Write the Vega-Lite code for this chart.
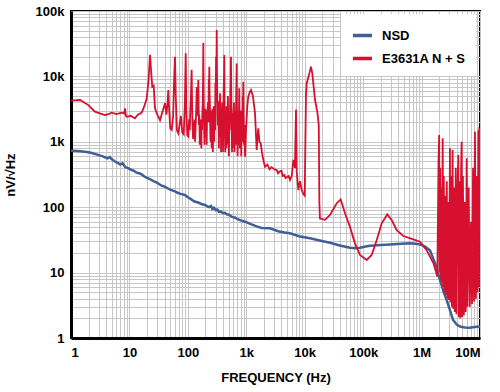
{
  "$schema": "https://vega.github.io/schema/vega-lite/v6.json",
  "width": 409,
  "height": 327,
  "autosize": "none",
  "padding": {"left": 71, "top": 11, "right": 20, "bottom": 54},
  "background": "white",
  "datasets": {
    "nsd": [
      {"f":1,"v":731},{"f":1.3,"v":725},{"f":1.74,"v":706},{"f":2.2,"v":680},{"f":2.9,"v":630},{"f":3.5,"v":600},{"f":4.2,"v":560},{"f":4.6,"v":585},{"f":5.0,"v":540},{"f":5.66,"v":500},{"f":6.3,"v":475},{"f":7,"v":450},{"f":7.6,"v":470},{"f":8.5,"v":410},{"f":9.5,"v":395},{"f":10.9,"v":370},{"f":12,"v":360},{"f":13,"v":340},{"f":14.5,"v":330},{"f":16,"v":320},{"f":18,"v":295},{"f":20,"v":280},{"f":22,"v":272},{"f":24,"v":260},{"f":27,"v":245},{"f":30,"v":235},{"f":35,"v":215},{"f":40.6,"v":205},{"f":45,"v":195},{"f":50,"v":185},{"f":60,"v":175},{"f":68,"v":165},{"f":75,"v":160},{"f":89,"v":154},{"f":100,"v":142},{"f":110,"v":135},{"f":120,"v":128},{"f":130,"v":122},{"f":150,"v":118},{"f":170,"v":112},{"f":196,"v":108},{"f":215,"v":103},{"f":230,"v":100},{"f":250,"v":104},{"f":262,"v":94},{"f":280,"v":98},{"f":300,"v":90},{"f":320,"v":92},{"f":340,"v":85},{"f":370,"v":86},{"f":400,"v":81},{"f":432,"v":82},{"f":470,"v":77},{"f":500,"v":77},{"f":560,"v":72},{"f":600,"v":70},{"f":650,"v":69},{"f":700,"v":66},{"f":800,"v":63},{"f":950,"v":60},{"f":1200,"v":55},{"f":1500,"v":51},{"f":1836,"v":48},{"f":2546,"v":47.6},{"f":3500,"v":43},{"f":4500,"v":41},{"f":5600,"v":40},{"f":8000,"v":36},{"f":12300,"v":33.5},{"f":18000,"v":31},{"f":27100,"v":28.6},{"f":40000,"v":26},{"f":59500,"v":24},{"f":75000,"v":23.6},{"f":88300,"v":24},{"f":110000,"v":25},{"f":131000,"v":25.8},{"f":200000,"v":26.5},{"f":288000,"v":27},{"f":450000,"v":27.5},{"f":632000,"v":28},{"f":800000,"v":27.5},{"f":940000,"v":27},{"f":1150000,"v":25},{"f":1390000,"v":22},{"f":1700000,"v":14},{"f":2070000,"v":7.7},{"f":2400000,"v":5},{"f":2690000,"v":3.8},{"f":3050000,"v":2.7},{"f":3450000,"v":1.9},{"f":4000000,"v":1.6},{"f":4550000,"v":1.5},{"f":5500000,"v":1.45},{"f":6740000,"v":1.44},{"f":8000000,"v":1.47},{"f":10000000,"v":1.5}
    ],
    "ens": [
      {"f":1,"v":4250},{"f":1.43,"v":4360},{"f":1.98,"v":3640},{"f":2.57,"v":2890},{"f":3.2,"v":2700},{"f":3.82,"v":2570},{"f":4.4,"v":2650},{"f":4.97,"v":2790},{"f":6,"v":2650},{"f":7.38,"v":2790},{"f":8.1,"v":2700},{"f":8.4,"v":3240},{"f":8.7,"v":2500},{"f":8.98,"v":2410},{"f":10.5,"v":2500},{"f":12.4,"v":2290},{"f":14,"v":2600},{"f":16.2,"v":2790},{"f":18,"v":3500},{"f":19.8,"v":4620},{"f":21.3,"v":9000},{"f":22.5,"v":21300},{"f":23.5,"v":12000},{"f":24.6,"v":6940},{"f":26,"v":7200},{"f":27.4,"v":3240},{"f":30,"v":2600},{"f":33.4,"v":2140},{"f":36,"v":2700},{"f":40.6,"v":3900},{"f":43,"v":2600},{"f":45,"v":4000},{"f":46.3,"v":6200},{"f":48,"v":3000},{"f":50,"v":1600},{"f":52.9,"v":1520},{"f":56,"v":2500},{"f":58,"v":8000},{"f":60.2,"v":20000},{"f":62,"v":5000},{"f":65,"v":1500},{"f":68.6,"v":1350},{"f":72,"v":1800},{"f":76,"v":2500},{"f":80,"v":1400},{"f":85,"v":1300},{"f":89,"v":4000},{"f":91.9,"v":22500},{"f":94,"v":3000},{"f":98,"v":1250},
      {"f":102,"v":1200},{"f":105,"v":2200},{"f":108,"v":1500},{"f":110,"v":3000},{"f":113,"v":5000},{"f":116,"v":12600},{"f":118,"v":4000},{"f":119,"v":2500},{"f":121,"v":1600},{"f":123,"v":1100},{"f":125,"v":2000},{"f":128,"v":1400},{"f":130,"v":2200},{"f":133,"v":1000},{"f":136,"v":1800},{"f":138,"v":2500},{"f":140,"v":4000},{"f":142,"v":6900},{"f":144,"v":3000},{"f":146,"v":2500},{"f":148,"v":4500},{"f":151,"v":8800},{"f":153,"v":3500},{"f":155,"v":1800},{"f":157,"v":2600},{"f":160,"v":900},{"f":162,"v":1900},{"f":165,"v":1100},{"f":167,"v":2200},{"f":170,"v":800},{"f":172,"v":1700},{"f":175,"v":1500},{"f":177,"v":2800},{"f":180,"v":4000},{"f":182,"v":9000},{"f":184,"v":32700},{"f":186,"v":6000},{"f":188,"v":3000},{"f":190,"v":1500},{"f":193,"v":900},{"f":195,"v":2200},{"f":198,"v":1200},{"f":200,"v":3200},{"f":203,"v":2500},{"f":206,"v":1200},{"f":208,"v":3000},{"f":210,"v":900},{"f":213,"v":2600},{"f":216,"v":2000},{"f":219,"v":3500},{"f":222,"v":4000},{"f":225,"v":2000},{"f":228,"v":9000},{"f":230,"v":5000},{"f":233,"v":14100},{"f":235,"v":6000},{"f":238,"v":4000},{"f":241,"v":1800},{"f":244,"v":1000},{"f":247,"v":3000},{"f":250,"v":2600},{"f":253,"v":1500},{"f":256,"v":800},{"f":259,"v":2400},{"f":262,"v":1500},{"f":265,"v":3200},{"f":268,"v":700},{"f":271,"v":1800},{"f":275,"v":2000},{"f":278,"v":3500},{"f":282,"v":1000},{"f":286,"v":2200},{"f":290,"v":3000},{"f":293,"v":1500},{"f":296,"v":8000},{"f":300,"v":4000},{"f":304,"v":20000},{"f":308,"v":9000},{"f":312,"v":51000},{"f":315,"v":12000},{"f":318,"v":6000},{"f":321,"v":2500},{"f":325,"v":1800},{"f":328,"v":4200},{"f":332,"v":3500},{"f":336,"v":1500},{"f":340,"v":800},{"f":344,"v":3000},{"f":348,"v":2500},{"f":351,"v":1200},{"f":355,"v":5500},{"f":358,"v":2500},{"f":362,"v":1200},{"f":366,"v":3000},{"f":370,"v":700},{"f":374,"v":1800},{"f":378,"v":2500},{"f":381,"v":1300},{"f":385,"v":4000},{"f":388,"v":2000},{"f":392,"v":900},{"f":396,"v":2300},{"f":400,"v":700},{"f":405,"v":3000},{"f":410,"v":6000},{"f":415,"v":9000},{"f":420,"v":21300},{"f":424,"v":5000},{"f":428,"v":2500},{"f":432,"v":1200},{"f":436,"v":700},{"f":440,"v":2200},{"f":445,"v":3000},{"f":450,"v":1400},{"f":455,"v":800},{"f":460,"v":3500},{"f":465,"v":2000},{"f":470,"v":1200},{"f":475,"v":900},{"f":480,"v":2500},{"f":485,"v":5000},{"f":488,"v":3000},{"f":492,"v":2100},{"f":498,"v":1200},{"f":505,"v":600},{"f":512,"v":2500},{"f":520,"v":1500},{"f":527,"v":3000},{"f":535,"v":6000},{"f":541,"v":9000},{"f":547,"v":20000},{"f":552,"v":6000},{"f":558,"v":3000},{"f":564,"v":1400},{"f":570,"v":700},{"f":577,"v":2800},{"f":585,"v":2500},{"f":592,"v":1100},{"f":600,"v":800},{"f":607,"v":3000},{"f":615,"v":4000},{"f":622,"v":1500},{"f":630,"v":700},{"f":637,"v":2200},{"f":645,"v":3000},{"f":652,"v":1200},{"f":660,"v":900},{"f":666,"v":2500},{"f":672,"v":5000},{"f":679,"v":8000},{"f":685,"v":15800},{"f":691,"v":4000},{"f":698,"v":2000},{"f":704,"v":1200},{"f":710,"v":600},{"f":720,"v":1500},{"f":730,"v":2000},{"f":737,"v":3000},{"f":745,"v":900},{"f":752,"v":3500},{"f":759,"v":6600},{"f":767,"v":2000},{"f":775,"v":800},{"f":787,"v":2000},{"f":800,"v":1500},{"f":810,"v":3000},{"f":820,"v":600},{"f":835,"v":1800},{"f":850,"v":2500},{"f":860,"v":1000},{"f":870,"v":5000},{"f":880,"v":3000},{"f":889,"v":8300},{"f":900,"v":2500},{"f":915,"v":900},{"f":930,"v":1800},{"f":950,"v":590},{"f":990,"v":1500},{"f":1040,"v":3500},{"f":1082,"v":4900},{"f":1150,"v":5800},{"f":1204,"v":6200},{"f":1300,"v":5000},{"f":1410,"v":2740},{"f":1470,"v":1200},{"f":1507,"v":750},{"f":1560,"v":1200},{"f":1605,"v":1600},{"f":1680,"v":1000},{"f":1765,"v":950},{"f":1850,"v":700},{"f":1955,"v":530},{"f":2090,"v":415},{"f":2300,"v":450},{"f":2500,"v":380},{"f":2700,"v":410},{"f":3000,"v":380},{"f":3313,"v":370},{"f":3500,"v":330},{"f":3700,"v":350},{"f":4000,"v":360},{"f":4200,"v":300},{"f":4500,"v":310},{"f":4700,"v":280},{"f":5000,"v":290},{"f":5300,"v":300},{"f":5596,"v":260},{"f":6000,"v":300},{"f":6378,"v":530},{"f":6800,"v":400},{"f":7096,"v":3090},{"f":7300,"v":350},{"f":7766,"v":183},{"f":8300,"v":250},{"f":8875,"v":183},{"f":9456,"v":160},{"f":10000,"v":150},{"f":10500,"v":5000},{"f":10800,"v":7800},{"f":11500,"v":9500},{"f":12800,"v":14100},{"f":13500,"v":11000},{"f":15000,"v":4360},{"f":16500,"v":2800},{"f":17400,"v":1800},{"f":17800,"v":120},{"f":18200,"v":67},{"f":22200,"v":64},{"f":27100,"v":76},{"f":35300,"v":115},{"f":41300,"v":132},{"f":48900,"v":81},{"f":59500,"v":50},{"f":72500,"v":28},{"f":88300,"v":18.6},{"f":115000,"v":15.6},{"f":140000,"v":18.6},{"f":171000,"v":31.5},{"f":208000,"v":56.7},{"f":259000,"v":78},{"f":308000,"v":63.5},{"f":375000,"v":44.7},{"f":487000,"v":36.3},{"f":722000,"v":32.3},{"f":940000,"v":29.6},{"f":1220000,"v":22},{"f":1590000,"v":14},{"f":1860000,"v":8.7},
      {"f":1950000,"v":500},{"f":2000000,"v":1270},{"f":2030000,"v":10},{"f":2080000,"v":400},{"f":2120000,"v":8},{"f":2180000,"v":200},{"f":2220000,"v":7},{"f":2300000,"v":1130},{"f":2340000,"v":6},{"f":2400000,"v":300},{"f":2460000,"v":5},{"f":2550000,"v":150},{"f":2620000,"v":4.5},{"f":2700000,"v":250},{"f":2780000,"v":4},{"f":2850000,"v":120},{"f":2950000,"v":3.8},{"f":3060000,"v":800},{"f":3120000,"v":3.5},{"f":3200000,"v":300},{"f":3300000,"v":3},{"f":3400000,"v":750},{"f":3480000,"v":2.8},{"f":3600000,"v":200},{"f":3700000,"v":2.5},{"f":3850000,"v":400},{"f":3950000,"v":2.3},{"f":4100000,"v":150},{"f":4250000,"v":630},{"f":4350000,"v":2.1},{"f":4500000,"v":250},{"f":4600000,"v":2},{"f":4750000,"v":400},{"f":4860000,"v":1000},{"f":4950000,"v":2.1},{"f":5100000,"v":300},{"f":5300000,"v":2.2},{"f":5500000,"v":120},{"f":5700000,"v":2.5},{"f":5920000,"v":560},{"f":6100000,"v":3},{"f":6400000,"v":200},{"f":6700000,"v":3},{"f":7000000,"v":60},{"f":7300000,"v":3.3},{"f":7600000,"v":400},{"f":7900000,"v":3.6},{"f":8200000,"v":1430},{"f":8500000,"v":4},{"f":8800000,"v":300},{"f":9100000,"v":5},{"f":9400000,"v":1500},{"f":9600000,"v":6},{"f":9720000,"v":1550},{"f":10000000,"v":1500}
    ]
  },
  "layer": [
    {
      "data": {"name": "nsd"},
      "transform": [{"calculate": "'NSD'", "as": "s"}],
      "mark": {"type": "line", "strokeWidth": 2.5, "clip": true},
      "encoding": {
        "x": {"field": "f", "type": "quantitative"},
        "y": {"field": "v", "type": "quantitative"},
        "color": {"field": "s", "type": "nominal"}
      }
    },
    {
      "data": {"name": "ens"},
      "transform": [{"calculate": "'E3631A N + S'", "as": "s"}],
      "mark": {"type": "line", "strokeWidth": 1.8, "clip": true},
      "encoding": {
        "x": {"field": "f", "type": "quantitative"},
        "y": {"field": "v", "type": "quantitative"},
        "color": {"field": "s", "type": "nominal"}
      }
    }
  ],
  "encoding": {
    "x": {
      "field": "f", "type": "quantitative",
      "scale": {"type": "log", "domain": [1, 10000000], "nice": false},
      "axis": {
        "title": "FREQUENCY (Hz)",
        "values": [1,2,3,4,5,6,7,8,9,10,20,30,40,50,60,70,80,90,100,200,300,400,500,600,700,800,900,1000,2000,3000,4000,5000,6000,7000,8000,9000,10000,20000,30000,40000,50000,60000,70000,80000,90000,100000,200000,300000,400000,500000,600000,700000,800000,900000,1000000,2000000,3000000,4000000,5000000,6000000,7000000,8000000,9000000,10000000],
        "labelExpr": "indexof([1,10,100,1000,10000,100000,1000000,10000000], datum.value) < 0 ? '' : datum.value >= 1000000 ? (datum.value/1000000) + 'M' : datum.value >= 1000 ? (datum.value/1000) + 'k' : '' + datum.value",
        "labelOverlap": false,
        "labelPadding": 8,
        "titlePadding": 12
      }
    },
    "y": {
      "field": "v", "type": "quantitative",
      "scale": {"type": "log", "domain": [1, 100000], "nice": false},
      "axis": {
        "title": "nV/√Hz",
        "values": [1,2,3,4,5,6,7,8,9,10,20,30,40,50,60,70,80,90,100,200,300,400,500,600,700,800,900,1000,2000,3000,4000,5000,6000,7000,8000,9000,10000,20000,30000,40000,50000,60000,70000,80000,90000,100000],
        "labelExpr": "indexof([1,10,100,1000,10000,100000], datum.value) < 0 ? '' : datum.value >= 1000 ? (datum.value/1000) + 'k' : '' + datum.value",
        "labelOverlap": false,
        "labelPadding": 7,
        "titlePadding": 18
      }
    },
    "color": {
      "field": "s", "type": "nominal",
      "scale": {"domain": ["NSD", "E3631A N + S"], "range": ["#3f5f95", "#d7102f"]},
      "legend": {
        "title": null,
        "orient": "none",
        "legendX": 270,
        "legendY": 3,
        "fillColor": "white",
        "padding": 10,
        "symbolType": "stroke",
        "symbolStrokeWidth": 3.5,
        "symbolSize": 361,
        "labelFont": "Liberation Sans",
        "labelFontWeight": "bold",
        "labelFontSize": 13,
        "labelColor": "black",
        "rowPadding": 4,
        "labelOffset": 8
      }
    }
  },
  "config": {
    "view": {"stroke": "black", "strokeWidth": 2},
    "axis": {
      "grid": true,
      "gridColor": "#c6c6c6",
      "gridWidth": 1,
      "ticks": false,
      "domain": true,
      "domainColor": "black",
      "domainWidth": 3,
      "labelFont": "Liberation Sans",
      "labelFontWeight": "bold",
      "labelFontSize": 13,
      "labelColor": "black",
      "titleFont": "Liberation Sans",
      "titleFontWeight": "bold",
      "titleFontSize": 13,
      "titleColor": "black"
    }
  }
}
